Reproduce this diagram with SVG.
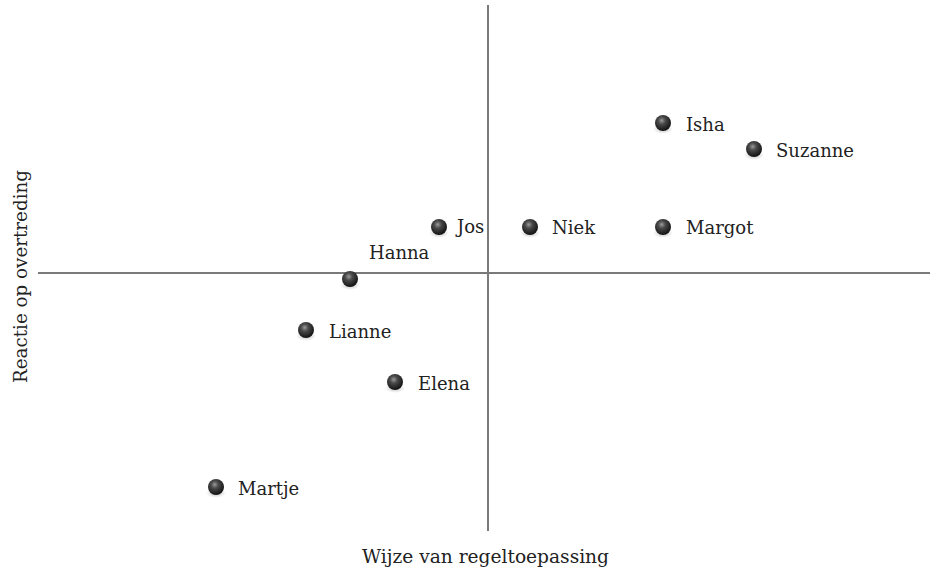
<svg xmlns="http://www.w3.org/2000/svg" width="930" height="574" viewBox="0 0 930 574">
  <style>
    .axis { stroke: #7a7a7a; stroke-width: 2; fill: none; }
    .lbl { font-family: "DejaVu Serif", "Liberation Serif", serif; font-size: 18px; fill: #222; }
    .ax { font-family: "DejaVu Serif", "Liberation Serif", serif; font-size: 18px; fill: #222; }
  </style>
  <defs>
    <radialGradient id="ball" cx="0.42" cy="0.35" r="0.65">
      <stop offset="0" stop-color="#9a9a9a"/>
      <stop offset="0.35" stop-color="#4a4a4a"/>
      <stop offset="1" stop-color="#111"/>
    </radialGradient>
    <radialGradient id="shade" cx="0.5" cy="0.5" r="0.5">
      <stop offset="0" stop-color="#000" stop-opacity="0.25"/>
      <stop offset="1" stop-color="#000" stop-opacity="0"/>
    </radialGradient>
    <g id="dot">
      <ellipse cx="0" cy="6" rx="10" ry="5" fill="url(#shade)"/>
      <circle cx="0" cy="0" r="8" fill="url(#ball)"/>
    </g>
  </defs>
  <rect width="930" height="574" fill="#fff"/>

  <g id="axes">
    <line class="axis" x1="488" y1="5" x2="488" y2="531"/>
    <line class="axis" x1="38" y1="273" x2="930" y2="273"/>
    <text class="ax" x="362" y="563" textLength="247" lengthAdjust="spacingAndGlyphs">Wijze van regeltoepassing</text>
    <text class="ax" transform="translate(27,383) rotate(-90)" textLength="213" lengthAdjust="spacingAndGlyphs">Reactie op overtreding</text>
  </g>

  <g id="isha"><use href="#dot" x="663" y="123"/><text class="lbl" x="686" y="131">Isha</text></g>
  <g id="suzanne"><use href="#dot" x="754" y="149"/><text class="lbl" x="776" y="157">Suzanne</text></g>
  <g id="jos"><use href="#dot" x="439" y="227"/><text class="lbl" x="457" y="233">Jos</text></g>
  <g id="niek"><use href="#dot" x="530" y="227"/><text class="lbl" x="552" y="234">Niek</text></g>
  <g id="margot"><use href="#dot" x="663" y="227"/><text class="lbl" x="686" y="234">Margot</text></g>
  <g id="hanna"><use href="#dot" x="350" y="279"/><text class="lbl" x="369" y="259">Hanna</text></g>
  <g id="lianne"><use href="#dot" x="306" y="330"/><text class="lbl" x="329" y="338">Lianne</text></g>
  <g id="elena"><use href="#dot" x="395" y="382"/><text class="lbl" x="418" y="390">Elena</text></g>
  <g id="martje"><use href="#dot" x="216" y="487"/><text class="lbl" x="238" y="495">Martje</text></g>
</svg>
